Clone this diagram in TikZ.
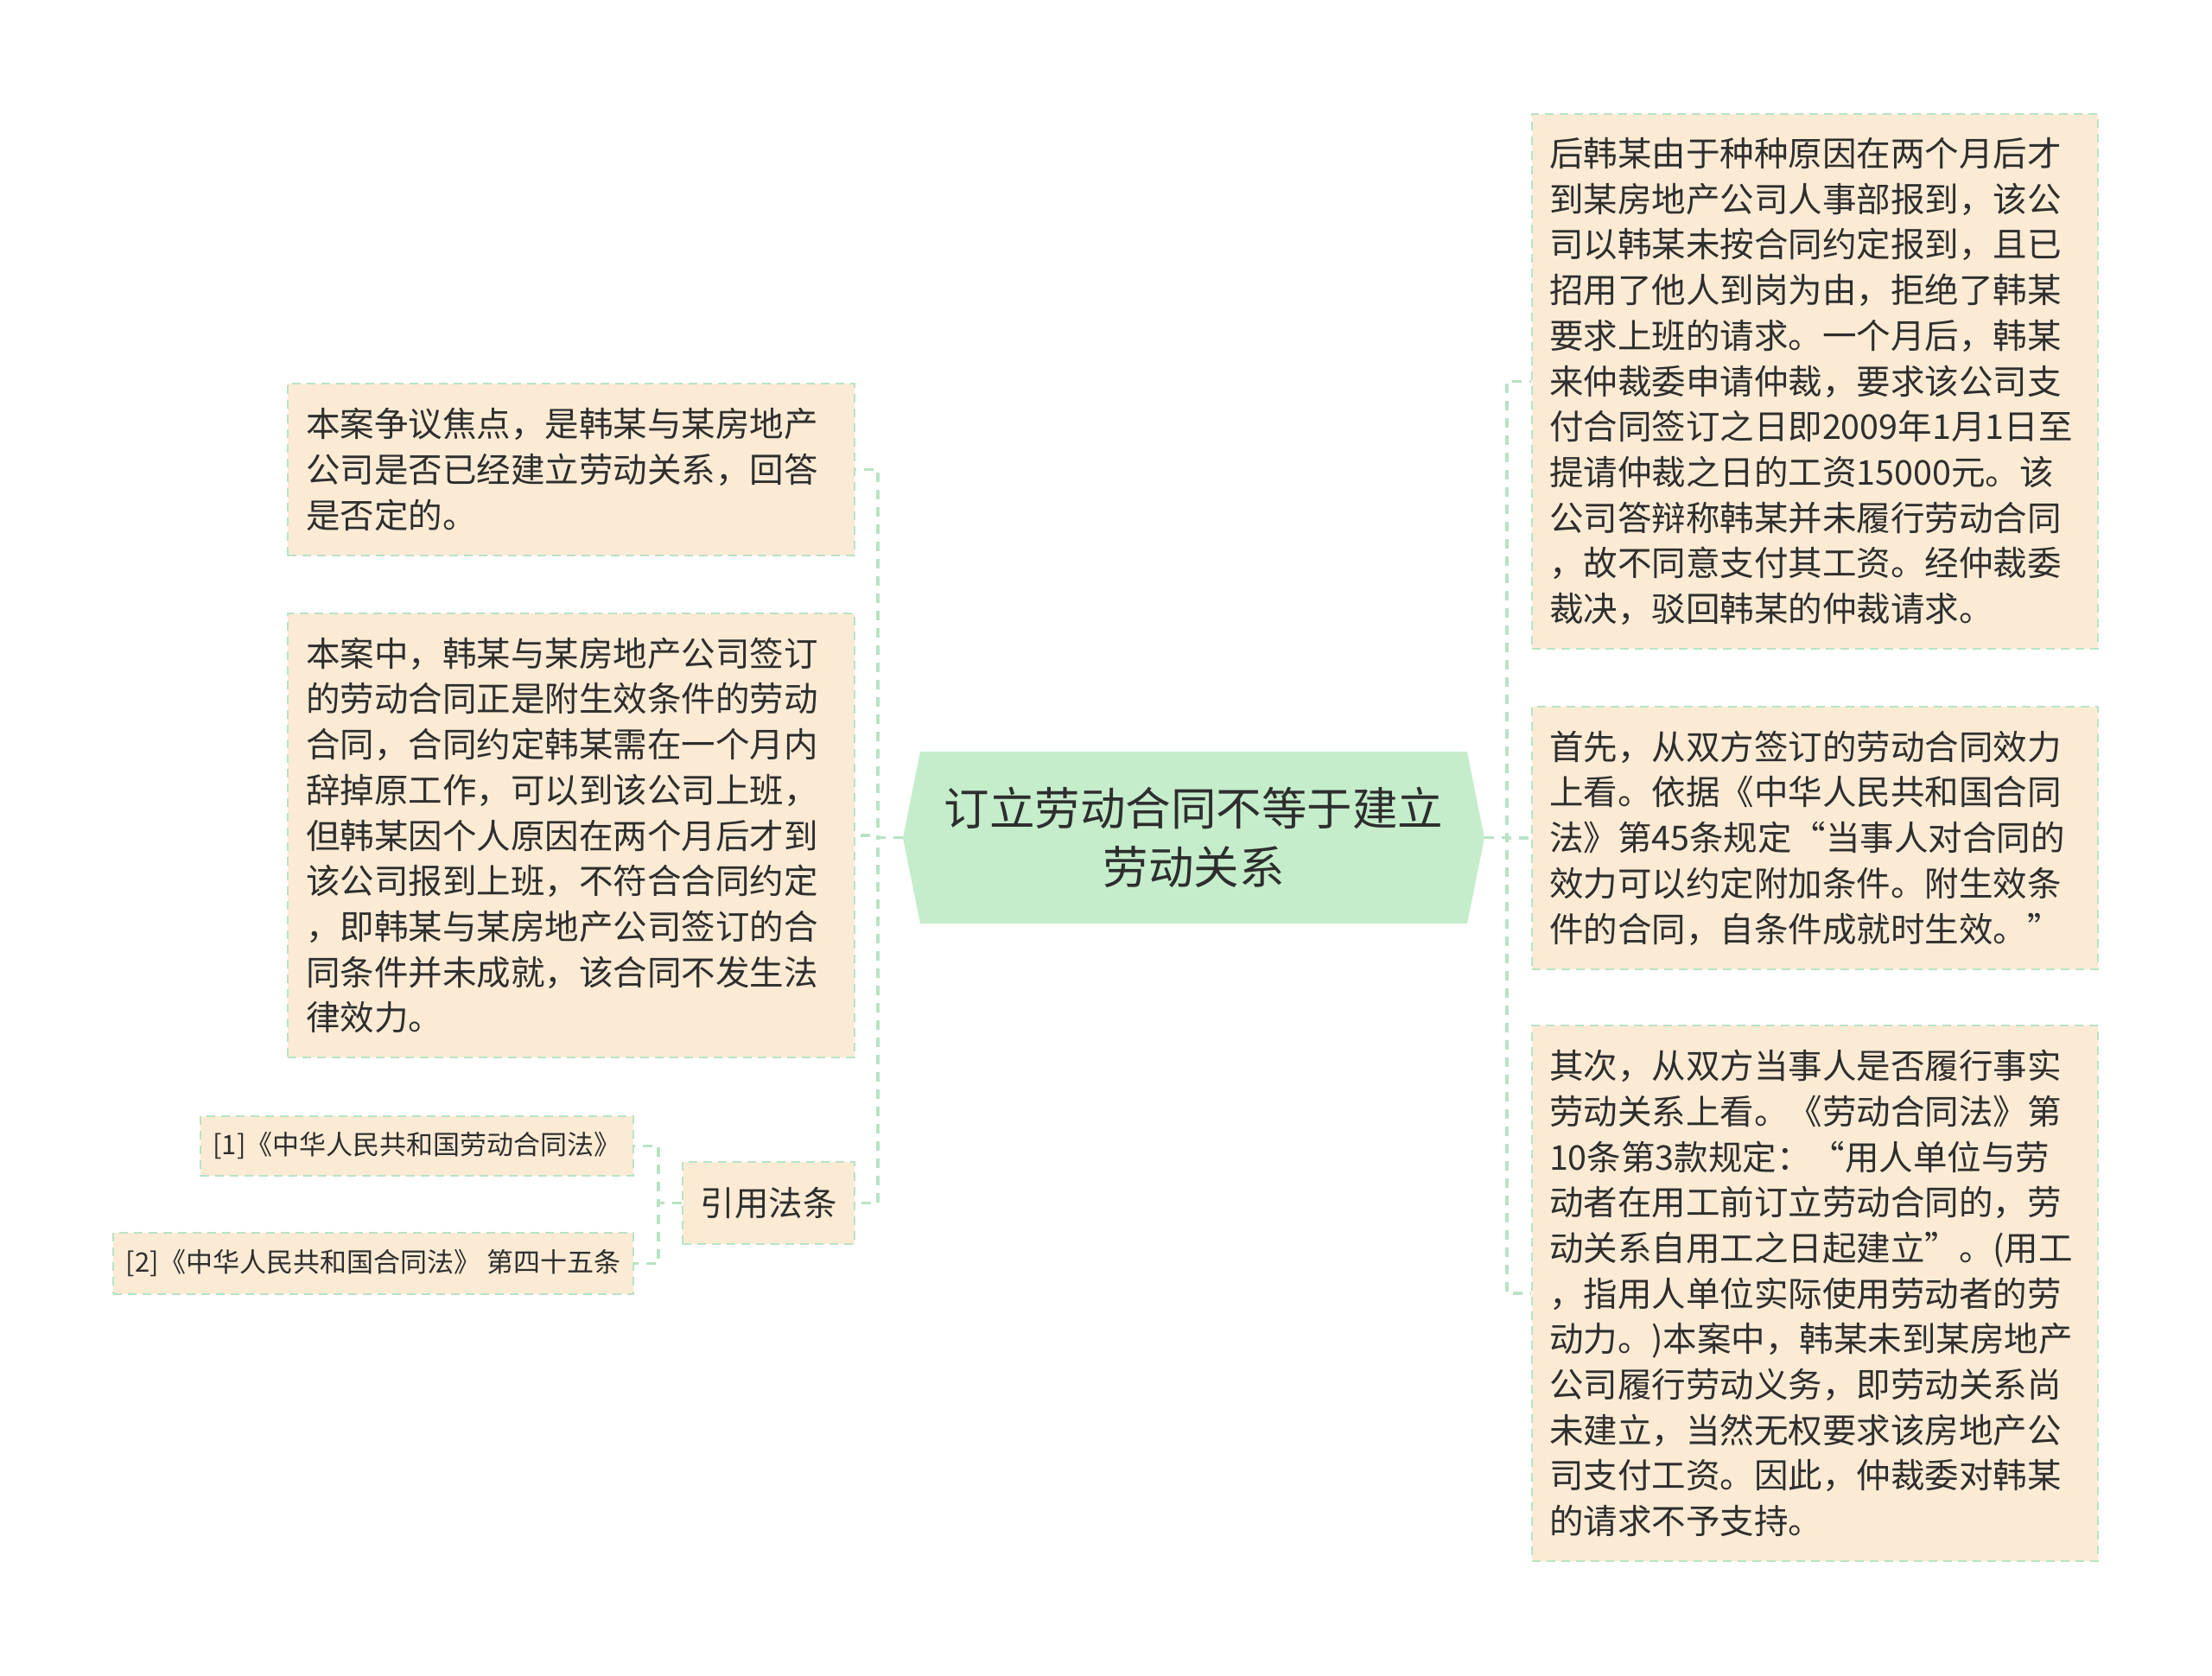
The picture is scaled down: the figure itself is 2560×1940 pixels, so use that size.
\documentclass[tikz,border=0pt]{standalone}
\usepackage{fontspec}
\setmainfont{Noto Sans CJK SC}
\definecolor{peach}{HTML}{FCEBD4}
\definecolor{linegreen}{HTML}{B8E3C5}
\definecolor{centergreen}{HTML}{C5EDCB}
\definecolor{txt}{HTML}{2E2E2E}
\begin{document}
\begin{tikzpicture}[x=1pt,y=-1pt,
  leaf/.style={draw=linegreen, fill=peach, dash pattern=on 10pt off 7pt, line width=2.5pt,
    inner sep=0pt, text=txt, font=\fontsize{39.5}{52.7}\selectfont, align=left},
  small/.style={leaf, font=\fontsize{31}{40}\selectfont, align=center},
  conn/.style={draw=linegreen, dash pattern=on 11pt off 9pt, line width=3.5pt}]
\useasboundingbox (0,0) rectangle (2560,1940);
\fill[white] (0,0) rectangle (2560,1940);

% central topic
\fill[centergreen] (1045,970) -- (1065,870) -- (1698,870) -- (1718,970) -- (1698,1069) -- (1065,1069) -- cycle;
\node[minimum width=673pt, minimum height=199pt, inner sep=0pt, text=txt, align=center,
  font=\fontsize{52.5}{68.6}\selectfont] (c) at (1381.5,969.5) {订立劳动合同不等于建立\\劳动关系};

% left branch
\node[leaf, minimum width=656pt, minimum height=199pt, text width=614pt] (b1) at (661,543.5)
  {本案争议焦点，是韩某与某房地产\\公司是否已经建立劳动关系，回答\\是否定的。};
\node[leaf, minimum width=656pt, minimum height=514pt, text width=614pt] (b2) at (661,967)
  {本案中，韩某与某房地产公司签订\\的劳动合同正是附生效条件的劳动\\合同，合同约定韩某需在一个月内\\辞掉原工作，可以到该公司上班，\\但韩某因个人原因在两个月后才到\\该公司报到上班，不符合合同约定\\，即韩某与某房地产公司签订的合\\同条件并未成就，该合同不发生法\\律效力。};
\node[leaf, align=center, minimum width=199pt, minimum height=95pt] (law) at (889.5,1392.5) {引用法条};
\node[small, minimum width=501pt, minimum height=69pt] (l1) at (482.5,1326.5) {[1]《中华人民共和国劳动合同法》};
\node[small, minimum width=602pt, minimum height=71pt] (l2) at (432,1462.5) {[2]《中华人民共和国合同法》 第四十五条};

% right branch
\node[leaf, minimum width=655pt, minimum height=619pt, text width=615pt] (r1) at (2100.5,441.5)
  {后韩某由于种种原因在两个月后才\\到某房地产公司人事部报到，该公\\司以韩某未按合同约定报到，且已\\招用了他人到岗为由，拒绝了韩某\\要求上班的请求。一个月后，韩某\\来仲裁委申请仲裁，要求该公司支\\付合同签订之日即2009年1月1日至\\提请仲裁之日的工资15000元。该\\公司答辩称韩某并未履行劳动合同\\，故不同意支付其工资。经仲裁委\\裁决，驳回韩某的仲裁请求。};
\node[leaf, minimum width=655pt, minimum height=304pt, text width=615pt] (r2) at (2100.5,970)
  {首先，从双方签订的劳动合同效力\\上看。依据《中华人民共和国合同\\法》第45条规定“当事人对合同的\\效力可以约定附加条件。附生效条\\件的合同，自条件成就时生效。”};
\node[leaf, minimum width=655pt, minimum height=620pt, text width=615pt] (r3) at (2100.5,1497)
  {其次，从双方当事人是否履行事实\\劳动关系上看。《劳动合同法》第\\10条第3款规定：“用人单位与劳\\动者在用工前订立劳动合同的，劳\\动关系自用工之日起建立”。(用工\\，指用人单位实际使用劳动者的劳\\动力。)本案中，韩某未到某房地产\\公司履行劳动义务，即劳动关系尚\\未建立，当然无权要求该房地产公\\司支付工资。因此，仲裁委对韩某\\的请求不予支持。};

% connectors
\coordinate (busL) at (1016,0);
\coordinate (busR) at (1744,0);
\coordinate (busS) at (762,0);
\draw[conn] (c.west) -- (c.west -| busL) |- (b1.east);
\draw[conn] (c.west) -- (c.west -| busL) |- (b2.east);
\draw[conn] (c.west) -- (c.west -| busL) |- (law.east);
\draw[conn] (c.east) -- (c.east -| busR) |- (r1.west);
\draw[conn] (c.east) -- (c.east -| busR) |- (r2.west);
\draw[conn] (c.east) -- (c.east -| busR) |- (r3.west);
\draw[conn] (law.west) -- (law.west -| busS) |- (l1.east);
\draw[conn] (law.west) -- (law.west -| busS) |- (l2.east);
\end{tikzpicture}
\end{document}
